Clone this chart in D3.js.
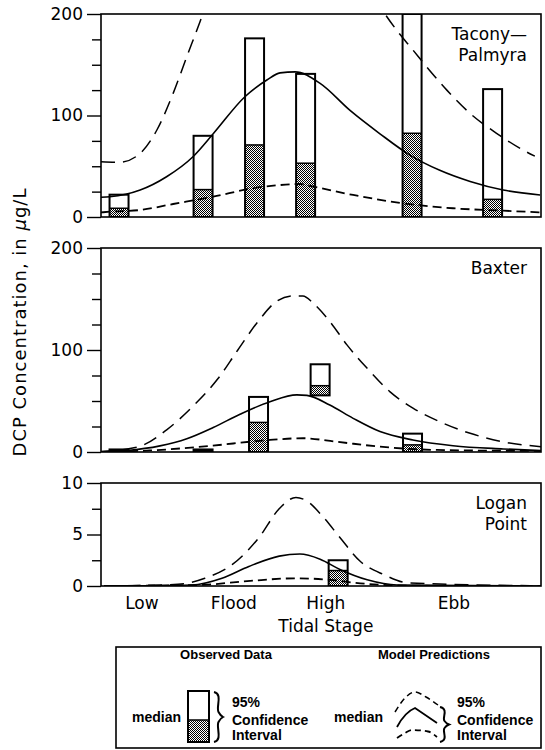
<html>
<script src="https://cdnjs.cloudflare.com/ajax/libs/d3/7.8.5/d3.min.js"></script>
<style>
body { margin: 0; background: white; }
text { font-family: "DejaVu Sans", sans-serif; fill: black; }
.leg { font-family: "Liberation Sans", Arial, sans-serif; font-weight: bold; }
</style>
<body>
<svg width="545" height="750"></svg>
<script>
// tidal stage is plotted as percent of the cycle shown (0-100)
var stageNames = ["Low", "Flood", "High", "Ebb"];
var stagePos = [9.3, 30.2, 51.1, 80.2];

// Tacony-Palmyra observed: stage, lower CI, median, upper CI
var tacObsX = [4.1, 23.2, 34.9, 46.5, 70.7, 89.0];
var tacObsLow = [0, 0, 0, 0, 0, 0];
var tacObsMed = [8.6, 27, 71, 53, 82.5, 17.4];
var tacObsHigh = [22, 80, 176, 141, 200, 126];

// Tacony-Palmyra model
var tacMedX = [0, 2.0, 8.9, 14.9, 20.9, 25.5, 32.7, 37.7, 40.7, 44.1, 49.8, 56.6, 63.4, 70.2, 77.0, 83.9, 91.4, 99.8];
var tacMedY = [19.5, 20, 26.6, 39.7, 59.4, 82, 118.5, 135, 142, 143, 131.6, 105, 82, 61, 46, 35, 26.6, 21.7];
var tacUpX = [0, 4.3, 8.9, 12.7, 16.4, 19.5, 22.5, 25.9, 31.6, 38.4, 44.1, 49.8, 56.6, 62.3, 67.2, 70.9, 74.0, 78.6, 83.9, 89.9, 95.9, 98.6];
var tacUpY = [54.5, 54, 62.7, 85.7, 121.8, 158, 192.4, 235, 285, 320, 330, 310, 260, 215, 184, 164.5, 148, 125, 102, 82.5, 66, 60];
var tacLoX = [0, 2.0, 8.9, 16.4, 25.5, 34.5, 40.7, 45.2, 48.2, 57.3, 68.6, 80.0, 91.4, 99.8];
var tacLoY = [4.5, 5.2, 6.9, 12.8, 20, 28.3, 31.5, 32.5, 30, 21.7, 13.5, 8.6, 6.2, 4.6];

// Baxter observed
var baxObsX = [4.1, 23.2, 35.8, 49.8, 70.8];
var baxObsLow = [0, 0, 0, 55.5, 0];
var baxObsMed = [1.2, 1.2, 29, 65, 7];
var baxObsHigh = [2.5, 2.5, 54, 86, 18];

// Baxter model
var baxMedX = [0, 5.9, 13.4, 19.5, 25.5, 31.6, 38.4, 44.5, 46.8, 52.0, 57.3, 63.4, 70.9, 80.0, 91.4, 100];
var baxMedY = [0.3, 1.5, 6, 13, 24, 37, 49.3, 56, 55.5, 46, 33, 20, 11.8, 6.2, 3, 1.3];
var baxUpX = [0, 8.4, 15.0, 21.4, 26.6, 31.1, 35.7, 40.0, 43.6, 45.9, 48.2, 52.0, 55.9, 60.5, 65.7, 70.9, 77.0, 83.9, 91.4, 100];
var baxUpY = [0.5, 5, 22, 47, 72, 100, 128, 148, 153, 153, 146, 128, 105, 82, 59, 43, 29.7, 18.3, 10, 5.2];
var baxLoX = [0, 11.1, 24.8, 36.1, 38.4, 45.9, 53.6, 63.4, 76.4, 100];
var baxLoY = [0.2, 1.5, 6, 11, 11.8, 13.5, 10, 5.2, 2, 1];

// Logan Point observed
var logObsX = [53.9];
var logObsLow = [0];
var logObsMed = [1.5];
var logObsHigh = [2.5];

// Logan Point model
var logMedX = [0.7, 20.7, 27.5, 33.6, 40.5, 45.2, 49.8, 54.3, 60.5, 67.3, 100];
var logMedY = [0, 0.1, 0.75, 1.9, 2.9, 3.1, 2.6, 1.6, 0.6, 0.1, 0];
var logUpX = [0.7, 17.5, 23.6, 29.8, 35.9, 40.5, 44.3, 46.6, 50.5, 54.3, 58.9, 64.3, 69.8, 97.5];
var logUpY = [0, 0.16, 0.75, 2.07, 4.7, 7.5, 8.6, 8.3, 6.7, 4.7, 2.4, 1.1, 0.3, 0.03];
var logLoX = [0.7, 22.5, 33.9, 44.3, 52.0, 58.9, 70.2, 100];
var logLoY = [0, 0.1, 0.5, 0.75, 0.6, 0.26, 0.03, 0];

var panels = [
  {name: ["Tacony\u2014", "Palmyra"], top: 14, bottom: 217, max: 200, major: [0, 100, 200], minor: [25, 50, 75, 125, 150, 175],
   obsX: tacObsX, obsLow: tacObsLow, obsMed: tacObsMed, obsHigh: tacObsHigh,
   med: [tacMedX, tacMedY], up: [tacUpX, tacUpY], lo: [tacLoX, tacLoY]},
  {name: ["Baxter"], top: 248, bottom: 452, max: 200, major: [0, 100, 200], minor: [25, 50, 75, 125, 150, 175],
   obsX: baxObsX, obsLow: baxObsLow, obsMed: baxObsMed, obsHigh: baxObsHigh,
   med: [baxMedX, baxMedY], up: [baxUpX, baxUpY], lo: [baxLoX, baxLoY]},
  {name: ["Logan", "Point"], top: 483, bottom: 586, max: 10, major: [0, 5, 10], minor: [2.5, 7.5],
   obsX: logObsX, obsLow: logObsLow, obsMed: logObsMed, obsHigh: logObsHigh,
   med: [logMedX, logMedY], up: [logUpX, logUpY], lo: [logLoX, logLoY]}
];

var svg = d3.select("svg");
var x = d3.scaleLinear().domain([0, 100]).range([101, 541]);

// stipple fill for the median part of the bars
var defs = svg.append("defs");
var pat = defs.append("pattern").attr("id", "stip")
    .attr("width", 2).attr("height", 2).attr("patternUnits", "userSpaceOnUse");
pat.append("rect").attr("width", 2).attr("height", 2).attr("fill", "#fff");
pat.append("rect").attr("width", 1).attr("height", 1).attr("fill", "#000");
pat.append("rect").attr("x", 1).attr("y", 1).attr("width", 1).attr("height", 1).attr("fill", "#000");

var barW = 19;

panels.forEach(function(p, i) {
  var y = d3.scaleLinear().domain([0, p.max]).range([p.bottom, p.top]);

  defs.append("clipPath").attr("id", "clip" + i)
    .append("rect")
      .attr("x", x(0)).attr("y", y(p.max))
      .attr("width", x(100) - x(0)).attr("height", y(0) - y(p.max));

  // y axis: labelled and minor ticks
  var ax = svg.append("g").attr("transform", "translate(" + x(0) + ",0)")
      .call(d3.axisLeft(y).tickValues(p.major).tickSize(14).tickPadding(4));
  ax.select(".domain").remove();
  ax.selectAll("line").attr("stroke-width", 1.4);
  ax.selectAll("text").style("font-size", "17px").style("font-family", "DejaVu Sans");
  var ax2 = svg.append("g").attr("transform", "translate(" + x(0) + ",0)")
      .call(d3.axisLeft(y).tickValues(p.minor).tickSize(9).tickFormat(""));
  ax2.select(".domain").remove();
  ax2.selectAll("line").attr("stroke-width", 1.4);

  var g = svg.append("g").attr("clip-path", "url(#clip" + i + ")");

  // observed bars
  var obs = p.obsX.map(function(d, j) {
    return {x: d, lo: p.obsLow[j], med: p.obsMed[j], hi: p.obsHigh[j]};
  });
  g.selectAll(".shade").data(obs).enter().append("rect")
      .attr("x", function(d) { return x(d.x) - barW / 2; })
      .attr("y", function(d) { return y(d.med); })
      .attr("width", barW)
      .attr("height", function(d) { return y(d.lo) - y(d.med); })
      .attr("fill", "url(#stip)");
  g.selectAll(".box").data(obs).enter().append("rect")
      .attr("x", function(d) { return x(d.x) - barW / 2; })
      .attr("y", function(d) { return y(d.hi); })
      .attr("width", barW)
      .attr("height", function(d) { return y(d.lo) - y(d.hi); })
      .attr("fill", "none").attr("stroke", "#000").attr("stroke-width", 2);
  g.selectAll(".medl").data(obs).enter().append("line")
      .attr("x1", function(d) { return x(d.x) - barW / 2; })
      .attr("x2", function(d) { return x(d.x) + barW / 2; })
      .attr("y1", function(d) { return y(d.med); })
      .attr("y2", function(d) { return y(d.med); })
      .attr("stroke", "#000").attr("stroke-width", 1.5);

  // model curves
  var line = d3.line()
      .x(function(d) { return x(d[0]); })
      .y(function(d) { return y(d[1]); })
      .curve(d3.curveMonotoneX);
  function pts(s) { return s[0].map(function(v, j) { return [v, s[1][j]]; }); }

  g.append("path").attr("d", line(pts(p.up)))
      .attr("fill", "none").attr("stroke", "#000").attr("stroke-width", 1.5)
      .attr("stroke-dasharray", "14,8");
  g.append("path").attr("d", line(pts(p.med)))
      .attr("fill", "none").attr("stroke", "#000").attr("stroke-width", 1.6);
  g.append("path").attr("d", line(pts(p.lo)))
      .attr("fill", "none").attr("stroke", "#000").attr("stroke-width", 1.8)
      .attr("stroke-dasharray", "9,5");

  // frame
  svg.append("rect")
      .attr("x", x(0)).attr("y", y(p.max))
      .attr("width", x(100) - x(0)).attr("height", y(0) - y(p.max))
      .attr("fill", "none").attr("stroke", "#000").attr("stroke-width", 1.6);

  // site name
  svg.append("text")
      .attr("text-anchor", "end")
      .style("font-size", "17px")
    .selectAll("tspan").data(p.name).enter().append("tspan")
      .attr("x", 527)
      .attr("y", function(d, j) { return y(p.max) + 26 + j * 21; })
      .text(function(d) { return d; });
});

// x labels (tidal stage) under the bottom panel
svg.selectAll(".stage").data(stageNames).enter().append("text")
    .attr("x", function(d, i) { return x(stagePos[i]); })
    .attr("y", 609)
    .attr("text-anchor", "middle")
    .style("font-size", "17px")
    .text(function(d) { return d; });

svg.append("text")
    .attr("x", x(stagePos[2]))
    .attr("y", 632)
    .attr("text-anchor", "middle")
    .style("font-size", "17px")
    .text("Tidal Stage");

// y axis title
var yt = svg.append("text")
    .attr("transform", "translate(26,322) rotate(-90)")
    .attr("text-anchor", "middle")
    .style("font-size", "18px")
    .style("letter-spacing", "1px");
yt.append("tspan").text("DCP Concentration, in ");
yt.append("tspan").style("font-style", "italic").text("\u03bc");
yt.append("tspan").text("g/L");

// legend
var leg = svg.append("g");
leg.append("rect").attr("x", 116).attr("y", 647).attr("width", 425).attr("height", 101)
    .attr("fill", "none").attr("stroke", "#000").attr("stroke-width", 1.6);

leg.append("text").attr("class", "leg").attr("x", 226).attr("y", 659)
    .attr("text-anchor", "middle").style("font-size", "13px").text("Observed Data");
leg.append("text").attr("class", "leg").attr("x", 434).attr("y", 659)
    .attr("text-anchor", "middle").style("font-size", "13px").text("Model Predictions");

function braceText(gx) {
  ["95%", "Confidence", "Interval"].forEach(function(t, i) {
    leg.append("text").attr("class", "leg").attr("x", gx).attr("y", 707 + [0, 18, 33][i])
        .style("font-size", "14px").text(t);
  });
}
function brace(bx, by, h) {
  var w = 9;
  var d = "M" + bx + "," + by +
    " C" + (bx + w) + "," + (by + 2) + " " + (bx + w * 0.2) + "," + (by + h * 0.3) + " " + (bx + w * 0.5) + "," + (by + h * 0.4) +
    " C" + (bx + w * 0.7) + "," + (by + h * 0.47) + " " + (bx + w) + "," + (by + h * 0.5) + " " + (bx + w) + "," + (by + h * 0.5) +
    " C" + (bx + w) + "," + (by + h * 0.5) + " " + (bx + w * 0.7) + "," + (by + h * 0.53) + " " + (bx + w * 0.5) + "," + (by + h * 0.6) +
    " C" + (bx + w * 0.2) + "," + (by + h * 0.7) + " " + (bx + w) + "," + (by + h - 2) + " " + bx + "," + (by + h);
  leg.append("path").attr("d", d).attr("fill", "none").attr("stroke", "#000").attr("stroke-width", 2);
}

leg.append("text").attr("class", "leg").attr("x", 132).attr("y", 722)
    .style("font-size", "14px").text("median");
leg.append("rect").attr("x", 188).attr("y", 720).attr("width", 21).attr("height", 22)
    .attr("fill", "url(#stip)");
leg.append("rect").attr("x", 188).attr("y", 691).attr("width", 21).attr("height", 51)
    .attr("fill", "none").attr("stroke", "#000").attr("stroke-width", 2);
leg.append("line").attr("x1", 188).attr("x2", 209).attr("y1", 720).attr("y2", 720)
    .attr("stroke", "#000").attr("stroke-width", 1.5);
brace(214, 692, 50);
braceText(232);

leg.append("text").attr("class", "leg").attr("x", 334).attr("y", 722)
    .style("font-size", "14px").text("median");
var gl = d3.line().curve(d3.curveMonotoneX);
leg.append("path").attr("d", gl([[395, 712], [405, 698], [415, 692], [426, 697], [438, 705]]))
    .attr("fill", "none").attr("stroke", "#000").attr("stroke-width", 1.5).attr("stroke-dasharray", "6,4");
leg.append("path").attr("d", "M397,727 Q405,712 415,708 L437,723")
    .attr("fill", "none").attr("stroke", "#000").attr("stroke-width", 1.8);
leg.append("path").attr("d", gl([[397, 738], [405, 733], [412, 730], [428, 731.5], [437, 737]]))
    .attr("fill", "none").attr("stroke", "#000").attr("stroke-width", 1.8).attr("stroke-dasharray", "6,4");
brace(440, 707, 35);
braceText(457);
</script>
</body>
</html>
